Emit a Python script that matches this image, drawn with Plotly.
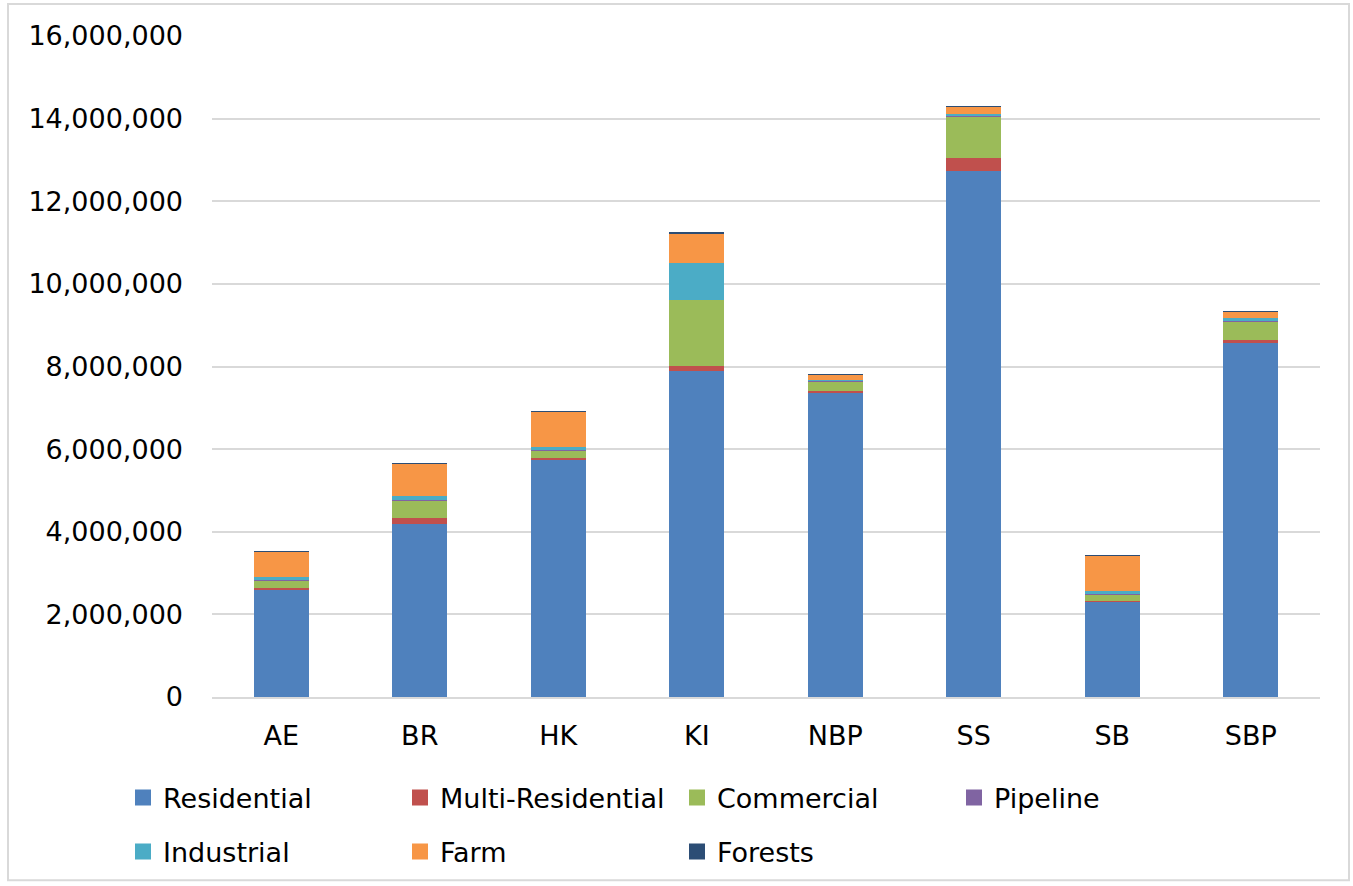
import plotly.graph_objects as go

# Assessment totals by area and property class
categories = ["AE", "BR", "HK", "KI", "NBP", "SS", "SB", "SBP"]
residential = [2590000, 4180000, 5750000, 7890000, 7360000, 12740000, 2310000, 8580000]
multi_residential = [60000, 160000, 40000, 120000, 45000, 310000, 20000, 60000]
commercial = [170000, 410000, 170000, 1600000, 240000, 1010000, 160000, 440000]
pipeline = [15000, 30000, 10000, 10000, 5000, 10000, 10000, 10000]
industrial = [80000, 80000, 80000, 890000, 20000, 50000, 70000, 90000]
farm = [610000, 790000, 850000, 720000, 130000, 170000, 850000, 160000]
forests = [2000, 2000, 2000, 2000, 2000, 2000, 3000, 2000]

y_ticks = [0, 2000000, 4000000, 6000000, 8000000, 10000000, 12000000, 14000000, 16000000]

series = [
    ("Residential", residential, "#4F81BD", "legend"),
    ("Multi-Residential", multi_residential, "#C0504D", "legend"),
    ("Commercial", commercial, "#9BBB59", "legend"),
    ("Pipeline", pipeline, "#8064A2", "legend"),
    ("Industrial", industrial, "#4BACC6", "legend2"),
    ("Farm", farm, "#F79646", "legend2"),
    ("Forests", forests, "#2C4D75", "legend2"),
]

FONT = "DejaVu Sans"
W, H = 1353, 886
L, R, T, B = 212, 33, 36, 188.5

fig = go.Figure()
for name, vals, color, lg in series:
    fig.add_trace(go.Bar(
        x=categories, y=vals, name=name, showlegend=False,
        marker=dict(color=color, line=dict(width=0)),
    ))
# Larger square swatches for the legend entries
for name, vals, color, lg in series:
    fig.add_trace(go.Scatter(
        x=[None], y=[None], mode="markers", name=name, legend=lg,
        marker=dict(symbol="square", size=16, color=color, line=dict(width=0)),
        hoverinfo="skip",
    ))

legend_common = dict(
    orientation="h", xref="container", yref="container",
    x=123 / W, xanchor="left", yanchor="middle",
    font=dict(family=FONT, size=27, color="#000000"),
    entrywidth=232, entrywidthmode="pixels", itemsizing="trace",
    bgcolor="rgba(0,0,0,0)", traceorder="normal",
)

plot_w = W - L - R
plot_h = H - T - B


def px_to_paper_x(px):
    return (px - L) / plot_w


def px_to_paper_y(py):
    return (H - B - py) / plot_h


fig.update_layout(
    width=W, height=H,
    margin=dict(l=L, r=R, t=T, b=B, pad=0, autoexpand=False),
    barmode="stack", bargap=0.6,
    paper_bgcolor="#FFFFFF", plot_bgcolor="#FFFFFF",
    font=dict(family=FONT, size=27, color="#000000"),
    legend=dict(y=1 - 798 / H, **legend_common),
    legend2=dict(y=1 - 852 / H, **legend_common),
    xaxis=dict(
        showgrid=False, showline=True, linecolor="#D9D9D9", linewidth=2,
        ticks="", ticklabelstandoff=14,
        tickfont=dict(family=FONT, size=27, color="#000000"),
    ),
    yaxis=dict(
        range=[0, 16000000], tickvals=y_ticks, tickformat=",d",
        showgrid=True, gridcolor="#D9D9D9", gridwidth=2,
        zeroline=False, showline=False, ticks="", ticklabelstandoff=28,
        tickfont=dict(family=FONT, size=27, color="#000000"),
    ),
    shapes=[dict(
        type="rect", xref="paper", yref="paper",
        x0=px_to_paper_x(8), x1=px_to_paper_x(1349),
        y0=px_to_paper_y(881), y1=px_to_paper_y(4),
        line=dict(color="#D9D9D9", width=2), fillcolor="rgba(0,0,0,0)",
        layer="below",
    )],
)

fig.write_html("out.html")
